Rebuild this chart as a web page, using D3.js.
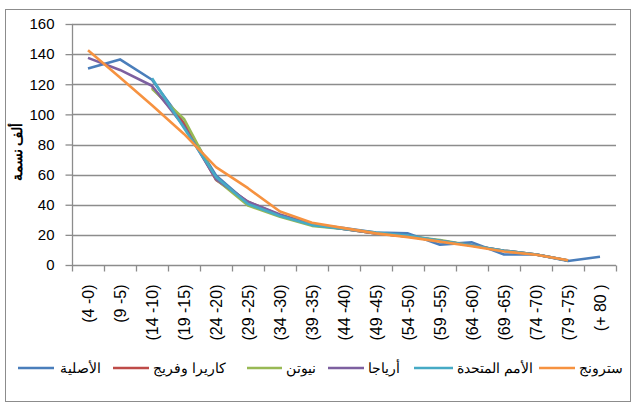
<!DOCTYPE html>
<html><head><meta charset="utf-8">
<script src="https://cdn.jsdelivr.net/npm/d3@7"></script>
<style>body{margin:0;background:#fff}svg{display:block}</style>
</head><body>
<script>
const categories = ["(4 -0)","(9 -5)","(14 -10)","(19 -15)","(24 -20)","(29 -25)","(34 -30)","(39 -35)","(44 -40)","(49 -45)","(54 -50)","(59 -55)","(64 -60)","(69 -65)","(74 -70)","(79 -75)","(+ 80 )"];
const original = [130.5,136.5,123,94,59.5,41,32.5,27,24.5,21.5,21,13.5,15,7,7,2.7,5.5];
const carrierFarrag = [null,null,118,94,56.5,42,33,27,24,21,19,16,13,9.5,7,3,null];
const newton = [null,null,117,97,57,39.5,32,26,24,21,19,16.5,13,9.5,7,3,null];
const arriaga = [137.5,129.5,119,92,57,42,33.5,27,24,21,19,16,13,9.5,7,3,null];
const unitedNations = [null,null,124,91,58.5,40.5,32.5,26.5,24,21.5,19.5,16,13,9.5,7,3,null];
const strong = [142.5,124.5,106,87,65,51,35.5,28,24.5,21,18.5,15.5,12.5,9,6.8,3.2,null];
const yTicks = [0,20,40,60,80,100,120,140,160];
const seriesNames = ["الأصلية","كاريرا وفريج","نيوتن","أرياجا","الأمم المتحدة","سترونج"];
const seriesColors = ["#4A7EBB","#BE4B48","#98B954","#7D60A0","#46AAC5","#F69240"];
const seriesValues = [original, carrierFarrag, newton, arriaga, unitedNations, strong];
const yTitle = "ألف نسمة";

const W = 631, H = 405;
const svg = d3.select("body").append("svg").attr("width", W).attr("height", H);
svg.append("rect").attr("x",5.5).attr("y",9.5).attr("width",625).attr("height",392)
  .attr("fill","#fff").attr("stroke","#8c8c8c").attr("stroke-width",1);

const x = d3.scaleBand().domain(categories).range([72,616]).padding(0);
const y = d3.scaleLinear().domain([0,160]).range([265,24]);

// gridlines
svg.append("g").selectAll("line").data(yTicks.filter(d=>d>0)).join("line")
  .attr("x1",72).attr("x2",616).attr("y1",d=>Math.round(y(d))+0.5).attr("y2",d=>Math.round(y(d))+0.5)
  .attr("stroke","#8c8c8c").attr("stroke-width",1.3);

// y axis
const yAxis = d3.axisLeft(y).tickValues(yTicks).tickSize(7).tickPadding(11).tickFormat(d3.format("d"));
const gy = svg.append("g").attr("transform","translate(72.5,0)").call(yAxis);
gy.selectAll("path,line").attr("stroke","#8c8c8c").attr("stroke-width",1.3);
gy.select(".domain").attr("d","M0,"+y(160)+"V"+y(0));
gy.selectAll("text").attr("font-family","Liberation Sans, Arial, sans-serif").attr("font-size",15).attr("fill","#000");

// x axis
const gx = svg.append("g").attr("transform","translate(0,"+(y(0)+0.5)+")");
gx.append("line").attr("x1",72).attr("x2",616).attr("stroke","#8c8c8c").attr("stroke-width",1.3);
const bounds = categories.map(c=>x(c)).concat([616]);
gx.selectAll("line.t").data(bounds).join("line").attr("class","t")
  .attr("x1",d=>Math.round(d)+0.5).attr("x2",d=>Math.round(d)+0.5).attr("y1",0).attr("y2",6)
  .attr("stroke","#8c8c8c").attr("stroke-width",1.3);
gx.selectAll("text").data(categories).join("text")
  .attr("transform",d=>"translate("+(x(d)+x.bandwidth()/2+6)+",19) rotate(-90)")
  .attr("text-anchor","end")
  .attr("font-family","Liberation Sans, Arial, sans-serif").attr("font-size",16).attr("fill","#000")
  .text(d=>d);

// y title
svg.append("text").attr("transform","translate(22,152) rotate(-90)")
  .attr("text-anchor","middle").attr("font-family","Liberation Sans, Arial, sans-serif")
  .attr("font-weight","bold").attr("font-size",14).attr("fill","#000").text(yTitle);

// lines
const line = d3.line().defined(d=>d!=null)
  .x((d,i)=>x(categories[i])+x.bandwidth()/2).y(d=>y(d));
seriesValues.forEach((vals,k)=>{
  svg.append("path").datum(vals).attr("d",line).attr("fill","none")
    .attr("stroke",seriesColors[k]).attr("stroke-width",2.6).attr("stroke-linejoin","round");
});

// legend
const legendItems = [
  {line:[18,54], text:60},
  {line:[113,149], text:153},
  {line:[247,282], text:286},
  {line:[328,364], text:368},
  {line:[414,453], text:457},
  {line:[539,575], text:579}
];
const lg = svg.append("g");
seriesNames.forEach((n,k)=>{
  const it = legendItems[k];
  lg.append("line").attr("x1",it.line[0]).attr("x2",it.line[1]).attr("y1",368).attr("y2",368)
    .attr("stroke",seriesColors[k]).attr("stroke-width",2.6);
  lg.append("text").attr("x",it.text).attr("y",373).attr("text-anchor","start")
    .attr("font-family","Liberation Sans, Arial, sans-serif").attr("font-size",14).attr("fill","#000")
    .text(n);
});
</script>
</body></html>
